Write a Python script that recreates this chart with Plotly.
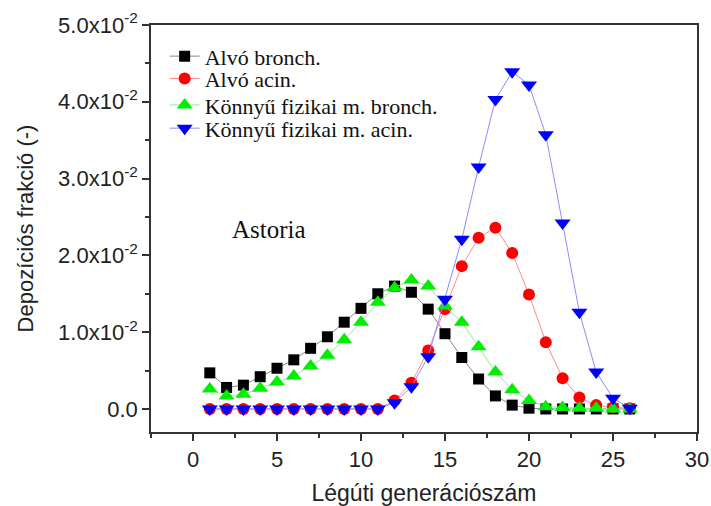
import plotly.graph_objects as go

generations = list(range(1, 27))

alvo_bronch = [0.0047, 0.0028, 0.0031, 0.0042, 0.0053, 0.0064, 0.0079, 0.0094, 0.0113, 0.0131,
               0.0150, 0.0160, 0.0152, 0.0130, 0.0098, 0.0067, 0.0039, 0.0017, 0.0005, 0.0001,
               0.0, 0.0, 0.0, 0.0, 0.0, 0.0]
alvo_acin = [0.0, 0.0, 0.0, 0.0, 0.0, 0.0, 0.0, 0.0, 0.0, 0.0,
             0.0, 0.0011, 0.0034, 0.0076, 0.0130, 0.0186, 0.0223, 0.0236, 0.0203, 0.0149,
             0.0087, 0.0040, 0.0015, 0.0005, 0.0002, 0.0001]
konnyu_bronch = [0.0026, 0.0017, 0.0019, 0.0027, 0.0035, 0.0043, 0.0056, 0.0070, 0.0090, 0.0113,
                 0.0139, 0.0158, 0.0168, 0.0160, 0.0134, 0.0113, 0.0081, 0.0048, 0.0025, 0.0011,
                 0.0003, 0.0002, 0.0001, 0.0001, 0.0, 0.0]
konnyu_acin = [0.0, 0.0, 0.0, 0.0, 0.0, 0.0, 0.0, 0.0, 0.0, 0.0,
               0.0, 0.0008, 0.0029, 0.0068, 0.0143, 0.0221, 0.0315, 0.0403, 0.0439, 0.0422,
               0.0357, 0.0242, 0.0126, 0.0048, 0.0014, 0.0001]

y_tickvals = [0.0, 0.01, 0.02, 0.03, 0.04, 0.05]
y_ticktext = ["0.0", "1.0x10<sup>-2</sup>", "2.0x10<sup>-2</sup>", "3.0x10<sup>-2</sup>",
              "4.0x10<sup>-2</sup>", "5.0x10<sup>-2</sup>"]
x_tickvals = [0, 5, 10, 15, 20, 25, 30]

series = [
    ("Alvó bronch.", alvo_bronch, "square", "#000000", "#8a8a8a", 11),
    ("Alvó acin.", alvo_acin, "circle", "#ff0000", "#ff8c8c", 12),
    ("Könnyű fizikai m. bronch.", konnyu_bronch, "triangle-up", "#00ee00", "#8cf08c", 14),
    ("Könnyű fizikai m. acin.", konnyu_acin, "triangle-down", "#0000ff", "#8c8cff", 14),
]
legend_ids = ["legend", "legend2", "legend3", "legend4"]
legend_rows_y = [0.923, 0.868, 0.803, 0.746]

fig = go.Figure()
for i, (name, vals, sym, mcol, lcol, size) in enumerate(series):
    fig.add_trace(go.Scatter(
        x=generations, y=vals, name=name, mode="lines+markers",
        legend=legend_ids[i],
        line=dict(color=lcol, width=1),
        marker=dict(symbol=sym, color=mcol, size=size, line=dict(width=0)),
    ))

axis_font = dict(family="Liberation Sans, Arial, sans-serif", size=22, color="#222")
legend_font = dict(family="Liberation Serif, Times New Roman, serif", size=22, color="#111")

legend_layout = {}
for lid, ly in zip(legend_ids, legend_rows_y):
    legend_layout[lid] = dict(
        x=0.025, y=ly, xanchor="left", yanchor="middle",
        bgcolor="rgba(255,255,255,0)", font=legend_font,
    )

fig.update_layout(
    width=711, height=506,
    margin=dict(l=151, r=14, t=25, b=74),
    paper_bgcolor="white", plot_bgcolor="white",
    showlegend=True,
    annotations=[dict(
        text="Astoria", x=0.217, y=0.497, xref="paper", yref="paper",
        showarrow=False, xanchor="center", yanchor="middle",
        font=dict(family="Liberation Serif, Times New Roman, serif", size=25, color="#111"),
    )],
    **legend_layout,
)

fig.update_xaxes(
    range=[-2.5, 30], tickvals=x_tickvals, automargin=False,
    showgrid=False, zeroline=False,
    showline=True, linecolor="#333", linewidth=1.5, mirror=True,
    ticks="outside", ticklen=7, tickwidth=1.5, tickcolor="#333",
    minor=dict(dtick=2.5, tick0=0, ticks="outside", ticklen=4, tickwidth=1.5, tickcolor="#333"),
    tickfont=axis_font,
    title=dict(text="Légúti generációszám", font=dict(axis_font, size=23), standoff=16),
)
fig.update_yaxes(
    range=[-0.003, 0.05], tickvals=y_tickvals, ticktext=y_ticktext, automargin=False,
    showgrid=False, zeroline=False,
    showline=True, linecolor="#333", linewidth=1.5, mirror=True,
    ticks="outside", ticklen=7, tickwidth=1.5, tickcolor="#333",
    minor=dict(tickvals=[0.005, 0.015, 0.025, 0.035, 0.045], ticks="outside", ticklen=4,
               tickwidth=1.5, tickcolor="#333"),
    tickfont=axis_font,
    title=dict(text="Depozíciós frakció (-)", font=axis_font, standoff=18),
)

fig.write_html("out.html", config={"displayModeBar": False},
               post_script="document.body.style.margin='0';")
